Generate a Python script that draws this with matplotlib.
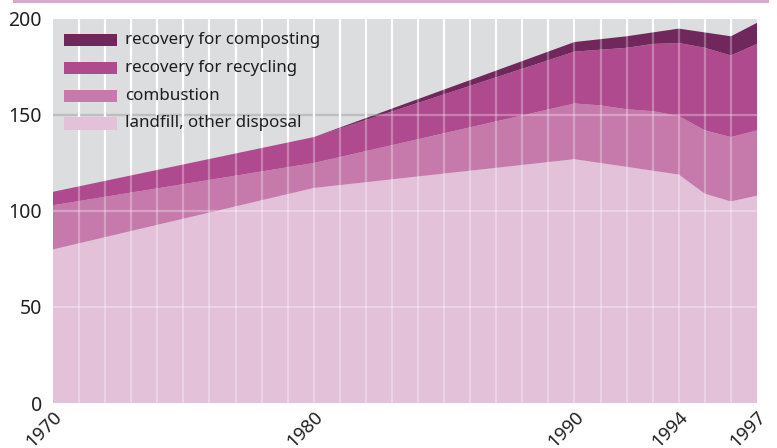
import matplotlib
matplotlib.use("Agg")
import matplotlib.pyplot as plt
import matplotlib.transforms as mtransforms
from matplotlib.patches import Rectangle
import numpy as np

years = [1970, 1980, 1990, 1991, 1992, 1993, 1994, 1995, 1996, 1997]
landfill = [80, 112, 127, 125, 123, 121, 119, 109, 105, 108]
combustion = [23, 13, 29, 30, 30, 31, 30.5, 33, 33.5, 34]
recycling = [7, 13.5, 27, 29, 32, 35, 38, 43, 42.5, 45]
composting = [0, 0, 5, 5.5, 6, 6, 7.5, 8, 10, 11]

series_labels = ["recovery for composting", "recovery for recycling",
                 "combustion", "landfill, other disposal"]
colors = {"composting": "#70285c", "recycling": "#b04a8e",
          "combustion": "#c57aab", "landfill": "#e2c1d9"}
xtick_years = [1970, 1980, 1990, 1994, 1997]
yticks = [0, 50, 100, 150, 200]

plt.rcParams['font.family'] = ['Noto Sans', 'DejaVu Sans']

fig = plt.figure(figsize=(7.77, 4.48), dpi=100)
ax = fig.add_axes([53/777, 1-403/448, 704/777, 384/448])
ax.set_facecolor("#dcdddf")

ax.stackplot(years, landfill, combustion, recycling, composting,
             colors=[colors["landfill"], colors["combustion"],
                     colors["recycling"], colors["composting"]],
             linewidth=0, zorder=2)

all_years = np.arange(years[0], years[-1] + 1)
inner = all_years[1:-1]
# under-layer grid
ax.vlines(inner, 0, 200, colors="white", linewidth=1.6, zorder=1)
ax.hlines([50, 100, 150], years[0], years[-1], colors="#a3a3a5", linewidth=1.6, zorder=0.8)
# overlay grid
ax.vlines(inner, 0, 200, colors="white", linewidth=1.6, alpha=0.3, zorder=3)
ax.hlines([50, 100, 150], years[0], years[-1], colors="white", linewidth=1.6, alpha=0.3, zorder=3)

ax.set_xlim(years[0], years[-1])
ax.set_ylim(0, 200)
for s in ax.spines.values():
    s.set_visible(False)
ax.tick_params(length=0)
ax.set_yticks(yticks)
ax.set_yticklabels([str(v) for v in yticks], fontsize=14, color="#222222")
ax.tick_params(axis='y', pad=8)
ax.set_xticks(xtick_years)
ax.set_xticklabels([str(v) for v in xtick_years], fontsize=13.5, color="#222222",
                   rotation=45, ha="right", va="center", rotation_mode="anchor")
offset = mtransforms.ScaledTranslation(6/100, -6/100, fig.dpi_scale_trans)
for lab in ax.get_xticklabels():
    lab.set_transform(lab.get_transform() + offset)

# legend
leg_colors = [colors["composting"], colors["recycling"], colors["combustion"], colors["landfill"]]
row_y = [0.945, 0.872, 0.799, 0.728]
ph = 0.0326
for lbl, c, y in zip(series_labels, leg_colors, row_y):
    ax.add_patch(Rectangle((0.0156, y - ph/2), 0.0753, ph, transform=ax.transAxes,
                           facecolor=c, edgecolor="none", zorder=5))
    ax.text(0.1023, y, lbl, transform=ax.transAxes, fontsize=12.2, color="#1e1e1e",
            va="center", ha="left", zorder=5)

# top decorative line
fig.add_artist(Rectangle((13/777, 1-3/448), 756/777, 3/448, transform=fig.transFigure,
                         facecolor="#d9a8ca", edgecolor="none"))

fig.savefig("out.png", dpi=100)
